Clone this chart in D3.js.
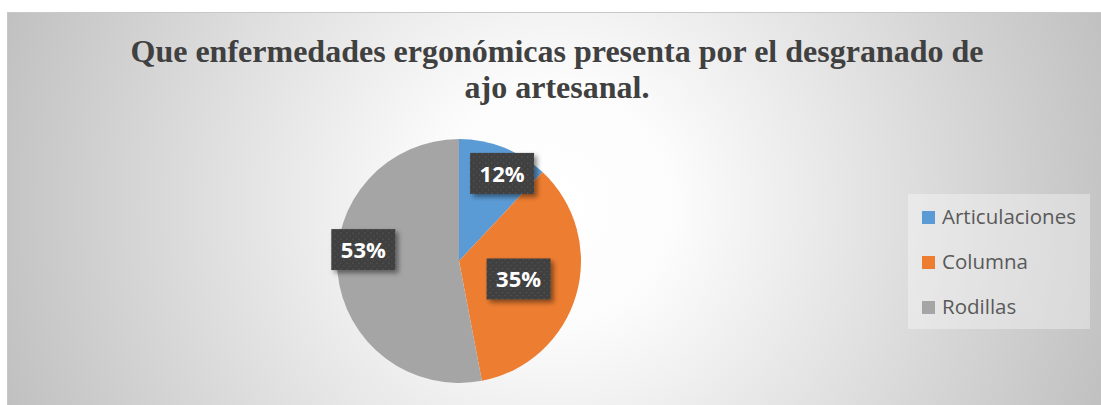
<!DOCTYPE html>
<html>
<head>
<meta charset="utf-8">
<script src="https://cdn.jsdelivr.net/npm/d3@7"></script>
<style>
  html, body { margin: 0; padding: 0; background: #ffffff; }
  svg { display: block; }
</style>
</head>
<body>
<div id="chart"></div>
<script>
// data
var categories = ["Articulaciones", "Columna", "Rodillas"];
var values = [12, 35, 53];
var titleLines = ["Que enfermedades ergonómicas presenta por el desgranado de", "ajo artesanal."];
var colors = ["#5b9bd5", "#ed7d31", "#a5a5a5"];

var width = 1101,
    height = 405;

var svg = d3.select("#chart")
    .append("svg")
    .attr("width", width)
    .attr("height", height);

var defs = svg.append("defs");

// background gradient of the chart area
var grad = defs.append("radialGradient")
    .attr("id", "bg")
    .attr("gradientUnits", "userSpaceOnUse")
    .attr("cx", 555).attr("cy", 205).attr("r", 600);
grad.append("stop").attr("offset", "0").attr("stop-color", "#ffffff");
grad.append("stop").attr("offset", "0.2").attr("stop-color", "#fcfcfc");
grad.append("stop").attr("offset", "1").attr("stop-color", "#bebebe");

// dotted pattern for the label boxes
var pat = defs.append("pattern")
    .attr("id", "dots")
    .attr("patternUnits", "userSpaceOnUse")
    .attr("width", 6).attr("height", 6);
pat.append("rect").attr("width", 6).attr("height", 6).attr("fill", "#404040");
pat.append("rect").attr("x", 1).attr("y", 1).attr("width", 1.2).attr("height", 1.2).attr("fill", "#5c5c5c");
pat.append("rect").attr("x", 4).attr("y", 4).attr("width", 1.2).attr("height", 1.2).attr("fill", "#555555");

var shadow = defs.append("filter")
    .attr("id", "shadow")
    .attr("x", "-30%").attr("y", "-30%")
    .attr("width", "170%").attr("height", "170%");
shadow.append("feDropShadow")
    .attr("dx", 3).attr("dy", 3)
    .attr("stdDeviation", 2.5)
    .attr("flood-color", "#000")
    .attr("flood-opacity", 0.45);

svg.append("rect")
    .attr("x", 7.5).attr("y", 12.5)
    .attr("width", width - 7).attr("height", height - 12)
    .attr("fill", "url(#bg)")
    .attr("stroke", "#c8c8c8")
    .attr("stroke-width", 1);

// title
svg.append("g")
    .selectAll("text")
    .data(titleLines)
    .enter()
    .append("text")
    .attr("x", 557)
    .attr("y", (d, i) => 62 + i * 36)
    .attr("text-anchor", "middle")
    .attr("font-family", "'Liberation Serif', 'Times New Roman', serif")
    .attr("font-weight", "bold")
    .attr("font-size", "32px")
    .attr("fill", "#404040")
    .text(d => d);

// pie
var cx = 459, cy = 261, radius = 122;

var pie = d3.pie().sort(null).value(d => d);
var arcs = pie(values);

var arc = d3.arc().innerRadius(0).outerRadius(radius);

var g = svg.append("g")
    .attr("transform", "translate(" + cx + "," + cy + ")");

g.selectAll("path")
    .data(arcs)
    .enter()
    .append("path")
    .attr("d", arc)
    .attr("fill", (d, i) => colors[i]);

// label placement (fraction of radius, angle nudge in radians)
var labelLayout = [[0.8, 0.08], [0.51, 0.01], [0.79, 0.213]];

var labels = g.selectAll(".lbl")
    .data(arcs)
    .enter()
    .append("g")
    .attr("class", "lbl")
    .attr("transform", function (d, i) {
        var a = (d.startAngle + d.endAngle) / 2 + labelLayout[i][1];
        var r = radius * labelLayout[i][0];
        return "translate(" + (r * Math.sin(a)) + "," + (-r * Math.cos(a)) + ")";
    });

labels.append("rect")
    .attr("x", -32).attr("y", -20.5)
    .attr("width", 64).attr("height", 41)
    .attr("fill", "url(#dots)")
    .attr("filter", "url(#shadow)");

labels.append("text")
    .attr("text-anchor", "middle")
    .attr("y", 8.5)
    .attr("font-family", "'Open Sans', 'Noto Sans', sans-serif")
    .attr("font-weight", "bold")
    .attr("font-size", "22px")
    .attr("fill", "#ffffff")
    .text(d => d.data + "%");

// legend
var legend = svg.append("g")
    .attr("transform", "translate(908,194)");

legend.append("rect")
    .attr("width", 182).attr("height", 135)
    .attr("fill", "#ffffff")
    .attr("fill-opacity", 0.35);

var items = legend.selectAll(".item")
    .data(categories)
    .enter()
    .append("g")
    .attr("class", "item")
    .attr("transform", (d, i) => "translate(14," + (17 + i * 45) + ")");

items.append("rect")
    .attr("width", 13).attr("height", 13)
    .attr("fill", (d, i) => colors[i]);

items.append("text")
    .attr("x", 20)
    .attr("y", 13)
    .attr("font-family", "'Open Sans', 'Noto Sans', sans-serif")
    .attr("font-size", "20.5px")
    .attr("fill", "#595959")
    .text(d => d);
</script>
</body>
</html>
